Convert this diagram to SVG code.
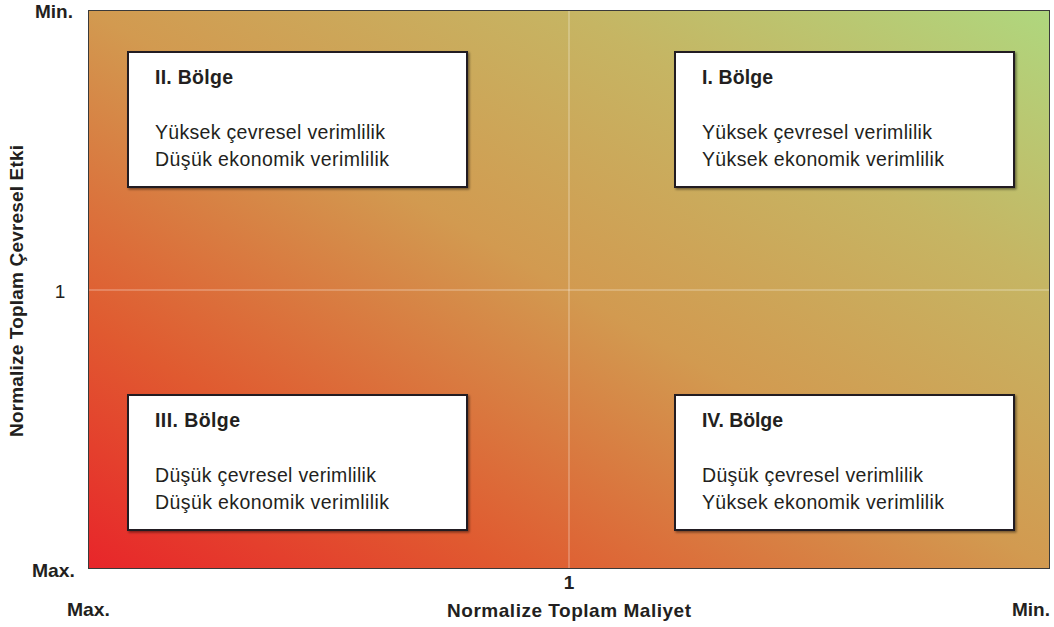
<svg xmlns="http://www.w3.org/2000/svg" width="1054" height="627" viewBox="0 0 1054 627">
  <defs>
    <linearGradient id="field" x1="0" y1="1" x2="1" y2="0">
      <stop offset="0" stop-color="#E8252A"/>
      <stop offset="0.22" stop-color="#E05A30"/>
      <stop offset="0.5" stop-color="#D29A50"/>
      <stop offset="0.75" stop-color="#C6B563"/>
      <stop offset="1" stop-color="#AFD77E"/>
    </linearGradient>
    <filter id="shadow" x="-5%" y="-5%" width="110%" height="110%">
      <feDropShadow dx="1.5" dy="1.5" stdDeviation="1" flood-color="#000" flood-opacity="0.45"/>
    </filter>
  </defs>
  <style>
    .axis { font-family: "Liberation Sans", Arial, sans-serif; font-weight: bold; font-size: 19px; fill: #231f20; }
    .tick { font-family: "Liberation Sans", Arial, sans-serif; font-size: 19px; fill: #231f20; }
    .box { fill: #ffffff; stroke: #231f20; stroke-width: 2; filter: url(#shadow); }
    .title { font-family: "Liberation Sans", Arial, sans-serif; font-weight: bold; font-size: 19.5px; fill: #231f20; }
    .body { font-family: "Liberation Sans", Arial, sans-serif; font-size: 19.5px; fill: #231f20; }
    .grid { stroke: #ffffff; stroke-opacity: 0.45; stroke-width: 1; }
  </style>

  <!-- plot field -->
  <g id="field-area">
    <rect x="88.5" y="10.5" width="961" height="558" fill="url(#field)" stroke="#3a3a3a" stroke-width="1"/>
    <line class="grid" x1="569" y1="11" x2="569" y2="568"/>
    <line class="grid" x1="89" y1="290" x2="1049" y2="290"/>
  </g>

  <!-- axes labels -->
  <g id="axes">
    <text class="axis" x="35" y="18" textLength="38" lengthAdjust="spacingAndGlyphs">Min.</text>
    <text class="axis" x="32" y="577" textLength="43" lengthAdjust="spacingAndGlyphs">Max.</text>
    <text class="tick" x="60" y="298" text-anchor="middle">1</text>
    <text class="axis" x="569" y="589" text-anchor="middle">1</text>
    <text class="axis" x="67" y="616" textLength="43" lengthAdjust="spacingAndGlyphs">Max.</text>
    <text class="axis" x="1012" y="616" textLength="38" lengthAdjust="spacingAndGlyphs">Min.</text>
    <text class="axis" x="447" y="617" textLength="244" lengthAdjust="spacing">Normalize Toplam Maliyet</text>
    <text class="axis" transform="translate(23 437) rotate(-90)" textLength="292" lengthAdjust="spacing">Normalize Toplam Çevresel Etki</text>
  </g>

  <!-- quadrant boxes -->
  <g id="zone-2">
    <rect class="box" x="128" y="52" width="339" height="135"/>
    <text class="title" x="155" y="84" textLength="78" lengthAdjust="spacing">II. Bölge</text>
    <text class="body" x="155" y="139" textLength="230" lengthAdjust="spacing">Yüksek çevresel verimlilik</text>
    <text class="body" x="155" y="166" textLength="234" lengthAdjust="spacing">Düşük ekonomik verimlilik</text>
  </g>
  <g id="zone-1">
    <rect class="box" x="675" y="52" width="339" height="135"/>
    <text class="title" x="702" y="84" textLength="71" lengthAdjust="spacing">I. Bölge</text>
    <text class="body" x="702" y="139" textLength="230" lengthAdjust="spacing">Yüksek çevresel verimlilik</text>
    <text class="body" x="702" y="166" textLength="242" lengthAdjust="spacing">Yüksek ekonomik verimlilik</text>
  </g>
  <g id="zone-3">
    <rect class="box" x="128" y="395" width="339" height="135"/>
    <text class="title" x="155" y="427" textLength="85" lengthAdjust="spacing">III. Bölge</text>
    <text class="body" x="155" y="482" textLength="221" lengthAdjust="spacing">Düşük çevresel verimlilik</text>
    <text class="body" x="155" y="509" textLength="234" lengthAdjust="spacing">Düşük ekonomik verimlilik</text>
  </g>
  <g id="zone-4">
    <rect class="box" x="675" y="395" width="339" height="135"/>
    <text class="title" x="702" y="427" textLength="81" lengthAdjust="spacing">IV. Bölge</text>
    <text class="body" x="702" y="482" textLength="221" lengthAdjust="spacing">Düşük çevresel verimlilik</text>
    <text class="body" x="702" y="509" textLength="242" lengthAdjust="spacing">Yüksek ekonomik verimlilik</text>
  </g>
</svg>
